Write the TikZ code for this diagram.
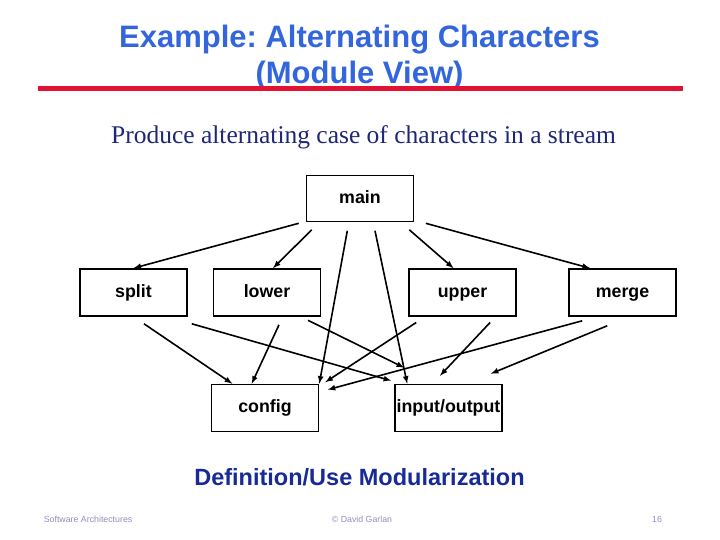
\documentclass[tikz,border=0pt]{standalone}
\usepackage{fontspec}
\setmainfont{Liberation Sans}
\newfontfamily\subfont{Liberation Serif}
\frenchspacing
\definecolor{titleblue}{RGB}{51,102,221}
\definecolor{rulered}{RGB}{228,18,50}
\definecolor{subnavy}{RGB}{30,38,118}
\definecolor{defblue}{RGB}{24,42,150}
\definecolor{footgray}{RGB}{150,140,190}
\tikzset{module/.style={draw,line width=1.6bp,minimum width=107bp,minimum height=47bp,inner sep=0pt,text height=13bp,text depth=3.5bp,font=\bfseries\fontsize{17.8bp}{20bp}\selectfont}}
\begin{document}
\begin{tikzpicture}[x=1bp,y=-1bp,>=latex,line width=1.6bp]
	\useasboundingbox (0,0) rectangle (720,540);
	\node[text=titleblue,align=center,font=\bfseries\fontsize{31bp}{35.5bp}\selectfont] (title) at (359.5,57.5) {Example: Alternating Characters\\(Module View)};
	\draw[rulered,line width=5bp] (38,88.5) -- (683,88.5);
	\node[text=subnavy,font=\subfont\fontsize{25.5bp}{28bp}\selectfont] (sub) at (363.5,137) {Produce alternating case of characters in a stream};
	\node[module,minimum height=46bp] (main) at (360,198.5) {main};
	\node[module] (split) at (133.5,292.5) {split};
	\node[module] (lower) at (267,292.5) {lower};
	\node[module] (upper) at (462.5,292.5) {upper};
	\node[module] (merge) at (622.5,292.5) {merge};
	\node[module] (config) at (265,408) {config};
	\node[module] (io) at (448.5,408) {input/output};
	\draw[->] ([shift={(-7,1)}]main.south west) -- (split.north);
	\draw[->] ([shift={(6,7.5)}]main.south west) -- ([shift={(6,0)}]lower.north);
	\draw[->] ([shift={(-12.7,8.5)}]main.south) -- (config.north east);
	\draw[->] ([shift={(15,8.5)}]main.south) -- ([shift={(13,0)}]io.north west);
	\draw[->] ([shift={(-5,7.5)}]main.south east) -- ([shift={(-9,0)}]upper.north);
	\draw[->] ([shift={(11.5,1)}]main.south east) -- ([shift={(-32.5,0)}]merge.north);
	\draw[->] ([shift={(10.5,7)}]split.south) -- ([shift={(21.6,0)}]config.north west);
	\draw[->] ([shift={(4,7)}]split.south east) -- ([shift={(-3,-3)}]io.north west);
	\draw[->] ([shift={(12,8)}]lower.south) -- ([shift={(-13.3,0)}]config.north);
	\draw[->] ([shift={(-13.3,3.5)}]lower.south east) -- ([shift={(10,-16)}]io.north west);
	\draw[->] ([shift={(8,5.7)}]upper.south west) -- ([shift={(6,-1.5)}]config.north east);
	\draw[->] ([shift={(-26.7,5.7)}]upper.south east) -- ([shift={(-8.5,-8)}]io.north);
	\draw[->] ([shift={(14,4)}]merge.south west) -- ([shift={(8.4,6)}]config.north east);
	\draw[->] ([shift={(39,9)}]merge.south west) -- ([shift={(-12,-10)}]io.north east);
	\node[text=defblue,font=\bfseries\fontsize{23.5bp}{26bp}\selectfont] (defuse) at (359.5,477) {Definition/Use Modularization};
	\node[text=footgray,anchor=west,inner sep=0pt,font=\fontsize{8.8bp}{10bp}\selectfont] (course) at (43,519) {Software Architectures};
	\node[text=footgray,font=\fontsize{8.8bp}{10bp}\selectfont] (author) at (362,519) {\textcopyright{} David Garlan};
	\node[text=footgray,font=\fontsize{8.8bp}{10bp}\selectfont] (page) at (657,519) {16};
\end{tikzpicture}
\end{document}
